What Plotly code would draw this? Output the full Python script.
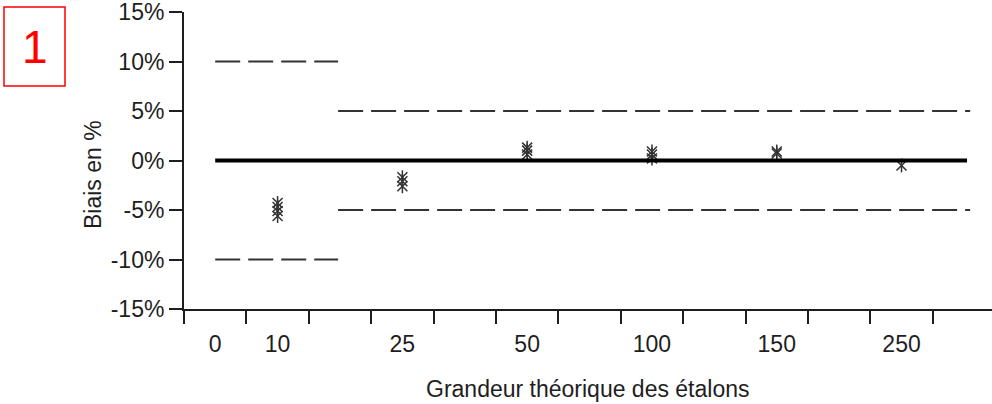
import plotly.graph_objects as go

# ---- data ----
categories = ["0", "10", "25", "50", "100", "150", "250"]
category_pos = [0.5, 1.5, 3.5, 5.5, 7.5, 9.5, 11.5]

# measured bias (%) for each standard (several replicates)
point_category = ["10", "10", "10", "10",
                  "25", "25", "25",
                  "50", "50", "50",
                  "100", "100", "100",
                  "150", "150",
                  "250"]
point_bias = [-4.3, -4.7, -5.1, -5.6,
              -1.7, -2.1, -2.6,
              0.6, 1.0, 1.3,
              0.2, 0.6, 0.9,
              0.7, 0.9,
              -0.5]

# acceptance limits (%) : [x_start, x_end], limit
limit_wide_x = [0.5, 2.47]
limit_wide = 10
limit_narrow_x = [2.47, 12.6]
limit_narrow = 5
zero_x = [0.5, 12.55]

y_tickvals = [-15, -10, -5, 0, 5, 10, 15]
y_ticktext = ["-15%", "-10%", "-5%", "0%", "5%", "10%", "15%"]

# ---- figure ----
pos_map = dict(zip(categories, category_pos))
px = [pos_map[c] for c in point_category]

INK = "#1e1e1e"
FONT = "Liberation Sans, Arial, sans-serif"

fig = go.Figure()

for sym in ["x-thin-open", "line-ns-open"]:
    fig.add_trace(go.Scatter(
        x=px, y=point_bias, mode="markers",
        marker=dict(symbol=sym, size=10, color="#333333",
                    line=dict(width=1.5, color="#333333")),
        showlegend=False, hoverinfo="skip"))

dash = "25px,8px"
for xs, lim in [(limit_wide_x, limit_wide), (limit_narrow_x, limit_narrow)]:
    for sgn in (1, -1):
        fig.add_trace(go.Scatter(
            x=xs, y=[sgn * lim, sgn * lim], mode="lines",
            line=dict(color="#333333", width=2, dash=dash),
            showlegend=False, hoverinfo="skip"))

fig.add_trace(go.Scatter(
    x=zero_x, y=[0, 0], mode="lines",
    line=dict(color="#000000", width=4),
    showlegend=False, hoverinfo="skip"))

fig.update_layout(
    width=992, height=404,
    margin=dict(l=184, r=0, t=12, b=95, autoexpand=False),
    paper_bgcolor="white", plot_bgcolor="white",
    font=dict(family=FONT, size=24, color=INK),
    xaxis=dict(
        range=[0, 12.95], showgrid=False, zeroline=False, automargin=False,
        showline=True, linecolor=INK, linewidth=2,
        tickmode="array", tickvals=category_pos, ticktext=categories,
        ticks="outside", ticklen=13, tickcolor="rgba(0,0,0,0)",
        tickfont=dict(family=FONT, size=23, color=INK),
        minor=dict(ticks="outside", ticklen=13, tickwidth=2, tickcolor=INK,
                   tick0=0, dtick=1, showgrid=False),
    ),
    yaxis=dict(
        range=[-15, 15], showgrid=False, zeroline=False, automargin=False,
        showline=True, linecolor=INK, linewidth=2,
        tickmode="array", tickvals=y_tickvals, ticktext=y_ticktext,
        ticks="outside", ticklen=13, tickwidth=2, tickcolor=INK,
        ticklabeloverflow="allow",
        tickfont=dict(family=FONT, size=23, color=INK),
    ),
    annotations=[
        dict(text="Biais en %", xref="paper", yref="paper",
             x=-0.1126, y=0.451, xanchor="center", yanchor="middle",
             textangle=-90, showarrow=False,
             font=dict(family=FONT, size=23, color=INK)),
        dict(text="Grandeur théorique des étalons", xref="paper", yref="paper",
             x=0.5, y=-0.27, xanchor="center", yanchor="middle",
             showarrow=False, font=dict(family=FONT, size=23, color=INK)),
        dict(text="1", xref="paper", yref="paper",
             x=(35 - 184) / 808, y=(309 - 47) / 297,
             xanchor="center", yanchor="middle", showarrow=False,
             font=dict(family=FONT, size=46, color="#ff0000")),
    ],
    shapes=[
        dict(type="rect", xref="paper", yref="paper",
             x0=(4 - 184) / 808, x1=(65 - 184) / 808,
             y0=(309 - 86) / 297, y1=(309 - 7) / 297,
             line=dict(color="#ff0000", width=1.5), fillcolor="rgba(0,0,0,0)"),
    ],
)

fig.write_html("out.html",
               config={"displayModeBar": False},
               post_script="document.body.style.margin='0px';"
                           "document.body.style.overflow='hidden';")
